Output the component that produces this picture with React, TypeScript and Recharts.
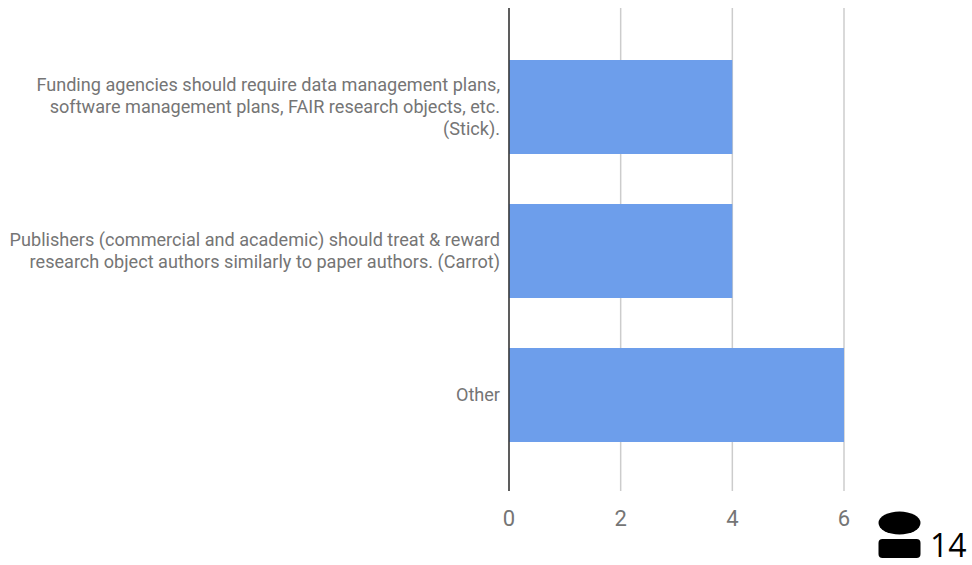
import { BarChart, Bar, XAxis, YAxis, CartesianGrid, ReferenceLine } from "recharts";

const categories = [
  "Funding agencies should require data management plans,\nsoftware management plans, FAIR research objects, etc.\n(Stick).",
  "Publishers (commercial and academic) should treat & reward\nresearch object authors similarly to paper authors. (Carrot)",
  "Other",
];
const counts = [4, 4, 6];
const xTicks = [0, 2, 4, 6];
const respondents = 14;

const data = categories.map((name, i) => ({ name, count: counts[i] }));

const CategoryTick = ({ x, y, payload }: { x?: number; y?: number; payload?: { value: string } }) => {
  const lines = String(payload?.value ?? "").split("\n");
  const lineH = 22;
  const start = (y ?? 0) - ((lines.length - 1) * lineH) / 2;
  const right = (x ?? 0) - 3;
  return (
    <text x={right} textAnchor="end" fontFamily="Roboto" fontSize={18.1} fill="#757575">
      {lines.map((l, i) => (
        <tspan key={i} x={right} y={start + i * lineH} dy={6}>{l}</tspan>
      ))}
    </text>
  );
};

export default function App() {
  return (
    <div style={{ position: "absolute", left: 0, top: 0, width: 972, height: 565, background: "#fff" }}>
      <BarChart
        width={972}
        height={565}
        data={data}
        layout="vertical"
        margin={{ top: 8, right: 128, bottom: 44, left: 0 }}
      >
        <CartesianGrid horizontal={false} stroke="#cccccc" strokeWidth={1.5} />
        <XAxis
          type="number"
          domain={[0, 6]}
          ticks={xTicks}
          axisLine={false}
          tickLine={false}
          tickMargin={13}
          tick={{ fontFamily: "Roboto", fontSize: 22, fill: "#757575" }}
        />
        <YAxis
          type="category"
          dataKey="name"
          width={509}
          axisLine={false}
          tickLine={false}
          padding={{ top: 27, bottom: 24 }}
          tick={<CategoryTick />}
          tickMargin={0}
          interval={0}
        />
        <Bar dataKey="count" fill="#6d9eeb" barSize={94} isAnimationActive={false} />
        <ReferenceLine x={0} stroke="#333333" strokeWidth={1.5} />
      </BarChart>
      <svg width={50} height={50} style={{ position: "absolute", left: 875, top: 508 }}>
        <ellipse cx={24.5} cy={15} rx={21} ry={11.5} fill="#000" />
        <rect x={3.5} y={31} width={42} height={19} rx={4} fill="#000" />
      </svg>
      <div style={{ position: "absolute", left: 930, top: 527, fontFamily: "Open Sans", fontSize: 32, lineHeight: "36px", color: "#000" }}>
        {respondents}
      </div>
    </div>
  );
}
